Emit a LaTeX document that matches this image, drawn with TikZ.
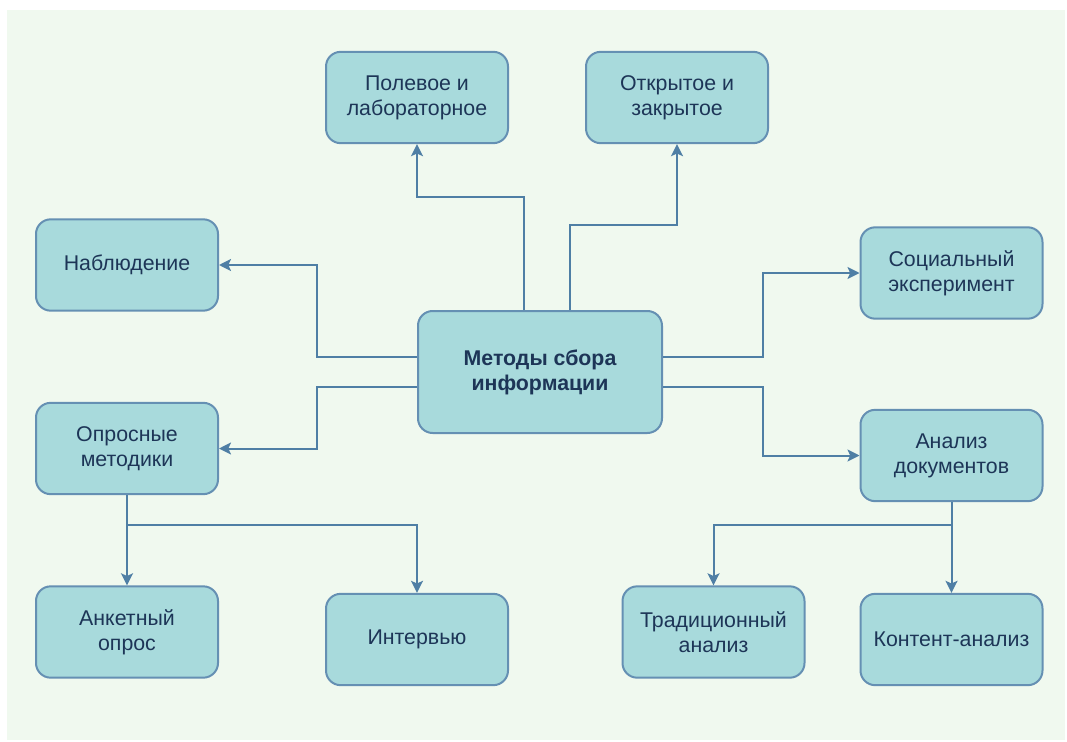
\documentclass[tikz,border=0pt]{standalone}
\usepackage{fontspec}
\setmainfont{Liberation Sans}
\usetikzlibrary{calc,arrows.meta}
\definecolor{bgc}{HTML}{F0F9EF}
\definecolor{boxfill}{HTML}{A8DADC}
\definecolor{boxline}{HTML}{6590B3}
\definecolor{conncol}{HTML}{4F7FA5}
\definecolor{txt}{HTML}{1D3557}
\tikzset{
  box/.style={draw=boxline, line width=1.5pt, fill=boxfill, rounded corners=11pt,
    minimum width=136.5pt, minimum height=68.5pt, align=center, text=txt,
    font=\fontsize{16pt}{18.75pt}\selectfont, inner sep=2pt},
  mainbox/.style={box, minimum width=183pt, minimum height=91.5pt,
    font=\fontsize{16pt}{18.75pt}\selectfont\bfseries},
  conn/.style={draw=conncol, line width=1.5pt,
    -{Stealth[length=9pt,width=9pt,inset=2pt]}}
}
\begin{document}
\begin{tikzpicture}[x=0.75pt,y=-0.75pt]
\useasboundingbox (0,0) rectangle (1067,742);
\fill[bgc] (7,10) rectangle (1065,740);

\node[mainbox] (main) at (540,372) {Методы сбора\\информации};
\node[box] (pole) at (417,97.5) {Полевое и\\лабораторное};
\node[box] (otkr) at (677,97.5) {Открытое и\\закрытое};
\node[box] (nabl) at (127,265) {Наблюдение};
\node[box] (soc) at (951.5,273) {Социальный\\эксперимент};
\node[box] (opros) at (127,448.5) {Опросные\\методики};
\node[box] (analiz) at (951.5,455.5) {Анализ\\документов};
\node[box] (anket) at (127,632) {Анкетный\\опрос};
\node[box] (interv) at (417,639.5) {Интервью};
\node[box] (trad) at (713.5,632) {Традиционный\\анализ};
\node[box] (kont) at (951.5,639.5) {Контент-анализ};

\draw[conn] ($(main.north)+(-16,0)$) -- ++(0,-113) -| (pole.south);
\draw[conn] ($(main.north)+(30,0)$) -- ++(0,-85) -| (otkr.south);
\draw[conn] ($(main.west)+(0,-15)$) -- ++(-100,0) |- (nabl.east);
\draw[conn] ($(main.west)+(0,15)$) -- ++(-100,0) |- (opros.east);
\draw[conn] ($(main.east)+(0,-15)$) -- ++(100,0) |- (soc.west);
\draw[conn] ($(main.east)+(0,15)$) -- ++(100,0) |- (analiz.west);

\draw[conn] (opros.south) -- (anket.north);
\draw[conn] (opros.south) -- ++(0,30) -| (interv.north);
\draw[conn] (analiz.south) -- (kont.north);
\draw[conn] (analiz.south) -- ++(0,23) -| (trad.north);
\end{tikzpicture}
\end{document}
